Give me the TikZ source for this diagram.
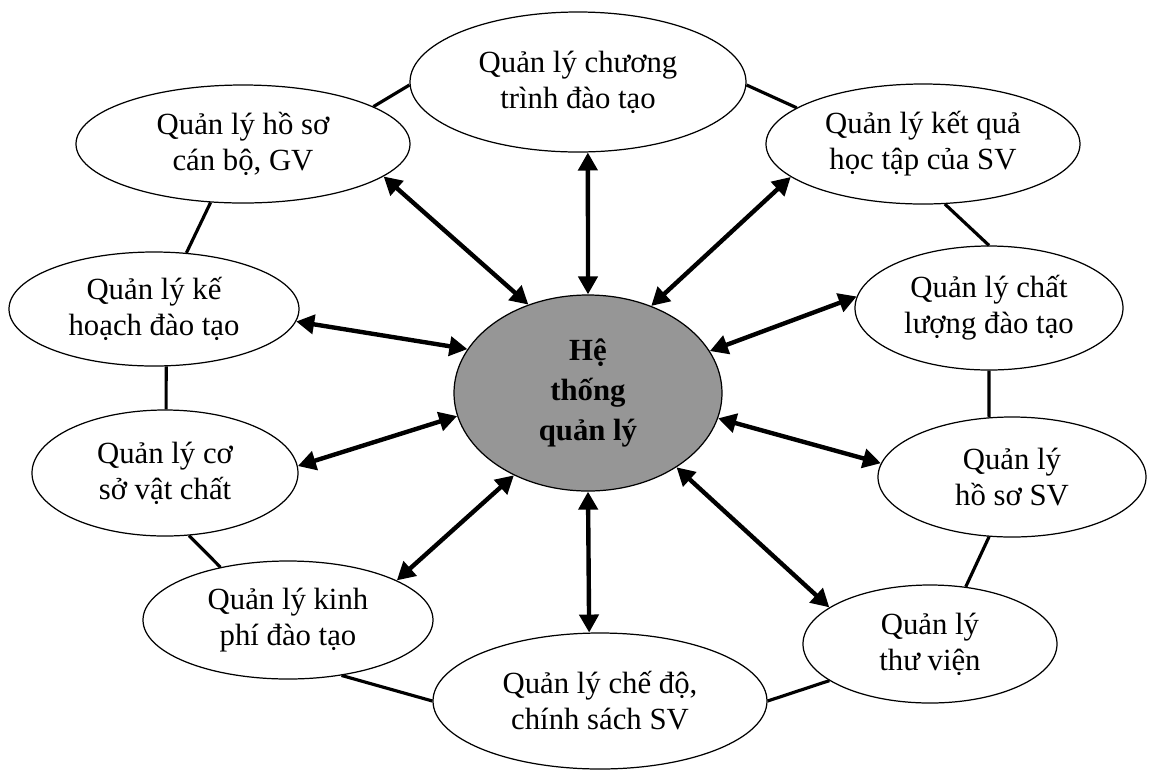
\documentclass[tikz,border=0pt]{standalone}
\usepackage{fontspec}
\setmainfont{Liberation Serif}
\usepackage{tikz}
\usetikzlibrary{shapes.geometric,arrows.meta,positioning}
\definecolor{htgray}{RGB}{150,150,150}

\begin{document}
\begin{tikzpicture}[x=0.2mm,y=-0.2mm,
  comp/.style={ellipse,draw,line width=0.7pt,fill=white,align=center,inner sep=1pt,
               font=\fontsize{17.5}{20.5}\selectfont},
  lnk/.style={line width=1.8pt},
  arr/.style={{Triangle[length=3.6mm,width=3.8mm]}-{Triangle[length=3.6mm,width=3.8mm]},line width=2.5pt}
]
\useasboundingbox (0,0) rectangle (1151,771);

% He thong quan ly
\node[comp,fill=htgray,minimum width=5.36cm,minimum height=3.92cm,
      font=\fontsize{17.5}{22.8}\selectfont\bfseries] (ht) at (588,393) {Hệ\\thống\\quản lý};

% Cac phan he
\node[comp,minimum width=6.72cm,minimum height=2.8cm] (ctdt) at (578,82) {Quản lý chương\\trình đào tạo};
\node[comp,minimum width=6.68cm,minimum height=2.36cm] (hscb) at (243,144) {Quản lý hồ sơ\\cán bộ, GV};
\node[comp,minimum width=6.28cm,minimum height=2.4cm] (kqht) at (923,144) {Quản lý kết quả\\học tập của SV};
\node[comp,minimum width=5.8cm,minimum height=2.28cm] (khdt) at (154,309) {Quản lý kế\\hoạch đào tạo};
\node[comp,minimum width=5.36cm,minimum height=2.48cm] (cldt) at (989,308) {Quản lý chất\\lượng đào tạo};
\node[comp,minimum width=5.32cm,minimum height=2.52cm] (csvc) at (165,473) {Quản lý cơ\\sở vật chất};
\node[comp,minimum width=5.36cm,minimum height=2.4cm] (hssv) at (1012,477) {Quản lý\\hồ sơ SV};
\node[comp,minimum width=5.8cm,minimum height=2.36cm] (kpdt) at (288,620) {Quản lý kinh\\phí đào tạo};
\node[comp,minimum width=6.68cm,minimum height=2.72cm] (cdcs) at (600,701) {Quản lý chế độ,\\chính sách SV};
\node[comp,minimum width=5.08cm,minimum height=2.36cm] (tv) at (930,644) {Quản lý\\thư viện};

% Vong lien ket
\draw[lnk] (hscb.16.6) -- (ctdt.181);
\draw[lnk] (ctdt.-1) -- (kqht.164.7);
\draw[lnk] (kqht.-70.7) -- (cldt.90);
\draw[lnk] (cldt.-90) -- (hssv.111.3);
\draw[lnk] (hssv.-111) -- (tv.58.3);
\draw[lnk] (tv.200.2) -- (cdcs.0);
\draw[lnk] (cdcs.180) -- (kpdt.-46);
\draw[lnk] (kpdt.142.9) -- (csvc.-69.4);
\draw[lnk] (csvc.89) -- (khdt.-78);
\draw[lnk] (khdt.60.4) -- (hscb.-119.2);

% Mui ten hai chieu
\draw[arr] (ht.124.8) -- (hscb.-13.8);
\draw[arr] (ht.90) -- (ctdt.-82.4);
\draw[arr] (ht.54.7) -- (kqht.194.9);
\draw[arr] (ht.160.8) -- (khdt.-5.5);
\draw[arr] (ht.19.6) -- (cldt.175.7);
\draw[arr] (ht.190.9) -- (csvc.3.4);
\draw[arr] (ht.-11.3) -- (hssv.174.9);
\draw[arr] (ht.228) -- (kpdt.20.4);
\draw[arr] (ht.-90) -- (cdcs.99.9);
\draw[arr] (ht.-40.1) -- (tv.160.9);
\end{tikzpicture}
\end{document}
